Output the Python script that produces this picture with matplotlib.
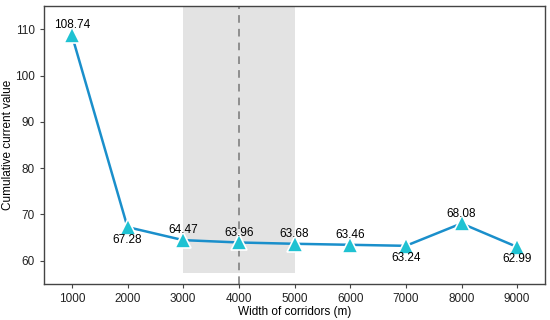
import matplotlib.pyplot as plt

plt.rcParams['font.family'] = ['Liberation Sans', 'DejaVu Sans']

widths = [1000, 2000, 3000, 4000, 5000, 6000, 7000, 8000, 9000]
values = [108.74, 67.28, 64.47, 63.96, 63.68, 63.46, 63.24, 68.08, 62.99]
label_pos = ['above', 'below', 'above', 'above', 'above', 'above', 'below', 'above', 'below']

fig = plt.figure(figsize=(5.5, 3.2), dpi=100)
ax = fig.add_axes([44 / 550, 36 / 320, 501 / 550, 278 / 320])

ax.fill_between([3000, 5000], 57.4, 114.8, color='#e3e3e3', lw=0, zorder=0)
ax.axvline(4000, color='#777777', ls=(0, (5, 4)), lw=1.1, zorder=1)

ax.plot(widths, values, color='#1a8fcb', lw=1.8, zorder=2)
ax.plot(widths, values, ls='none', marker='^', ms=11, color='#1fc2d2',
        mec='white', mew=1.2, zorder=3)

for x, y, p in zip(widths, values, label_pos):
    if p == 'above':
        ax.annotate(f'{y:.2f}', (x, y), xytext=(0, 7), textcoords='offset points',
                    ha='center', va='center', fontsize=8.5)
    else:
        ax.annotate(f'{y:.2f}', (x, y), xytext=(0, -9), textcoords='offset points',
                    ha='center', va='center', fontsize=8.5)

ax.set_xlim(500, 9500)
ax.set_ylim(55, 115)
ax.set_xticks(widths)
ax.set_yticks([60, 70, 80, 90, 100, 110])
ax.tick_params(labelsize=8.5, color='#444444', labelcolor='#222222', length=3, width=0.8)
for s in ax.spines.values():
    s.set_color('#444444')
    s.set_linewidth(1.0)
ax.set_xlabel('Width of corridors (m)', fontsize=8.5, labelpad=1)
ax.set_ylabel('Cumulative current value', fontsize=8.5, va='center')
ax.yaxis.set_label_coords(-0.072, 0.5)

fig.savefig('out.png', dpi=100)
